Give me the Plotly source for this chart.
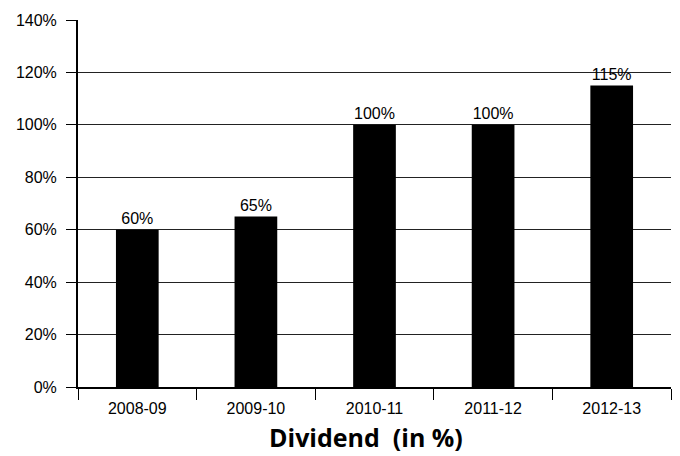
import plotly.graph_objects as go

categories = ["2008-09", "2009-10", "2010-11", "2011-12", "2012-13"]
dividend = [60, 65, 100, 100, 115]
y_ticks = [0, 20, 40, 60, 80, 100, 120, 140]
y_tick_labels = [f"{v}%" for v in y_ticks]
x_title = "Dividend\u00a0\u00a0(in %)"

fig = go.Figure()
fig.add_trace(go.Bar(
    x=categories, y=dividend,
    marker=dict(color="black", line=dict(width=0)),
    width=0.36,
    text=[f"{v}%" for v in dividend],
    textposition="outside",
    cliponaxis=False,
    textfont=dict(family="Liberation Sans, Arial", size=16, color="black"),
))

fig.add_annotation(
    text=f"<b>{x_title}</b>", xref="paper", yref="paper",
    x=0.485, y=0, yshift=-50, xanchor="center", yanchor="middle",
    showarrow=False,
    font=dict(family="Open Sans, Noto Sans", size=25, color="black"),
)

fig.update_layout(
    width=680, height=456,
    margin=dict(l=78, r=9, t=20, b=69),
    paper_bgcolor="white", plot_bgcolor="white",
    showlegend=False,
    font=dict(family="Liberation Sans, Arial", size=16, color="black"),
    xaxis=dict(
        type="category",
        showline=True, linecolor="black", linewidth=2,
        ticks="outside", ticklen=11, tickcolor="black", tickwidth=1,
        tickson="boundaries",
        ticklabelstandoff=6,
        showgrid=False,
        tickfont=dict(size=16),
    ),
    yaxis=dict(
        range=[0, 140], tickvals=y_ticks, ticktext=y_tick_labels,
        showline=True, linecolor="black", linewidth=2,
        ticks="outside", ticklen=10, tickcolor="black", tickwidth=1,
        ticklabelstandoff=6,
        showgrid=True, gridcolor="#222", gridwidth=1,
        zeroline=False,
        tickfont=dict(size=16),
    ),
)

fig.write_html("out.html")
